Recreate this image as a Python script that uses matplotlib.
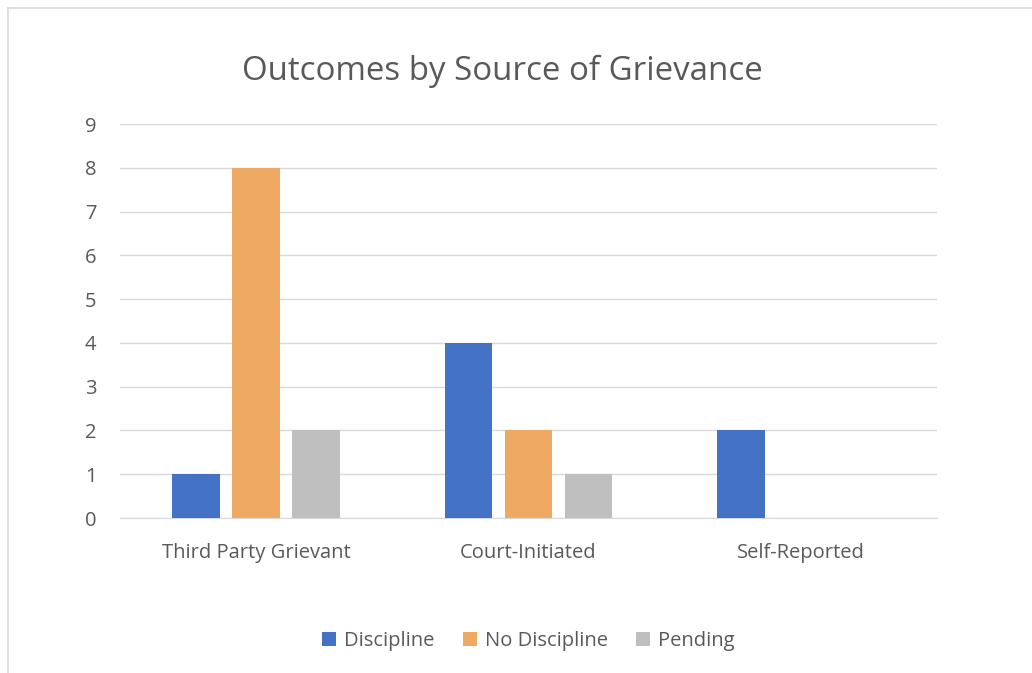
import numpy as np
import matplotlib
matplotlib.use("Agg")
import matplotlib.pyplot as plt
from matplotlib.lines import Line2D

categories = ["Third Party Grievant", "Court-Initiated", "Self-Reported"]
series_names = ["Discipline", "No Discipline", "Pending"]
discipline = [1, 4, 2]
no_discipline = [8, 2, 0]
pending = [2, 1, 0]
colors = ["#4472C4", "#EEAA62", "#BFBFBF"]

plt.rcParams["font.family"] = ["Open Sans", "DejaVu Sans"]
text_color = "#595959"

fig = plt.figure(figsize=(10.32, 6.73), dpi=100)
ax = fig.add_axes([120 / 1032, 1 - 518 / 673, 817 / 1032, 394 / 673])

x = np.arange(len(categories))
width = 0.175
step = 0.22
for i, (vals, name) in enumerate(zip([discipline, no_discipline, pending], series_names)):
    ax.bar(x + (i - 1) * step, vals, width, color=colors[i], label=name, zorder=3)

ax.set_xlim(-0.5, 2.5)
ax.set_ylim(0, 9)
ax.set_yticks(range(0, 10))
ax.set_xticks(x)
ax.set_xticklabels(categories)
ax.grid(axis="y", color="#D9D9D9", linewidth=1, zorder=0)
for s in ["top", "right", "left"]:
    ax.spines[s].set_visible(False)
ax.spines["bottom"].set_color("#D9D9D9")
ax.tick_params(axis="both", length=0, labelsize=14.5, colors=text_color)
ax.tick_params(axis="y", pad=17)
ax.tick_params(axis="x", pad=18)

fig.text(502 / 1032, 1 - 71 / 673, "Outcomes by Source of Grievance", ha="center", va="center",
         fontsize=23.8, color=text_color)

ax.legend(loc="center", bbox_to_anchor=(0.5, 1 - (641 - 124) / 394), ncol=3, frameon=False,
          fontsize=14.5, labelcolor=text_color, handlelength=0.7, handleheight=0.7,
          handletextpad=0.4, columnspacing=1.4, bbox_transform=ax.transAxes)

# chart border (left and top edges visible)
fig.add_artist(Line2D([8 / 1032, 8 / 1032], [0, 1 - 8 / 673], transform=fig.transFigure,
                      color="#D9D9D9", linewidth=1.2))
fig.add_artist(Line2D([8 / 1032, 1], [1 - 8 / 673, 1 - 8 / 673], transform=fig.transFigure,
                      color="#D9D9D9", linewidth=1.2))

fig.savefig("out.png", dpi=100)
